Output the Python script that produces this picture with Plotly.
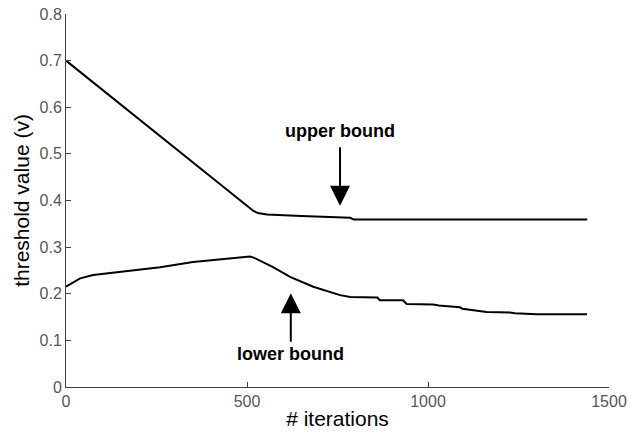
import plotly.graph_objects as go

# Data
upper_x = [0, 500, 517, 530, 555, 650, 785, 795, 1440]
upper_y = [0.700, 0.388, 0.378, 0.373, 0.370, 0.367, 0.363, 0.359, 0.359]

lower_x = [0, 15, 39, 75, 150, 260, 351, 444, 490, 508, 520, 572, 619, 683, 757,
           785, 860, 867, 931, 941, 1014, 1030, 1088, 1095, 1162, 1226, 1240, 1300, 1439]
lower_y = [0.215, 0.222, 0.233, 0.240, 0.247, 0.257, 0.268, 0.275, 0.278, 0.280, 0.277,
           0.257, 0.236, 0.215, 0.197, 0.193, 0.192, 0.186, 0.186, 0.178, 0.177, 0.175,
           0.171, 0.168, 0.161, 0.160, 0.158, 0.156, 0.156]

x_ticks = [0, 500, 1000, 1500]
y_ticks = [0, 0.1, 0.2, 0.3, 0.4, 0.5, 0.6, 0.7, 0.8]
y_tick_text = ["0", "0.1", "0.2", "0.3", "0.4", "0.5", "0.6", "0.7", "0.8"]

fig = go.Figure()
fig.add_trace(go.Scatter(x=upper_x, y=upper_y, mode="lines",
                         line=dict(color="black", width=2), showlegend=False))
fig.add_trace(go.Scatter(x=lower_x, y=lower_y, mode="lines",
                         line=dict(color="black", width=2), showlegend=False))

label_font = dict(family="Liberation Sans, Arial, sans-serif", size=18, color="black")

# upper bound label and arrow
fig.add_annotation(x=757, y=0.55, xref="x", yref="y", text="<b>upper bound</b>",
                   showarrow=False, font=label_font)
fig.add_annotation(x=757, y=0.389, xref="x", yref="y", ax=0, ay=-60, text="",
                   showarrow=True, arrowhead=2, arrowsize=2, arrowwidth=2, arrowcolor="black")
# lower bound label and arrow
fig.add_annotation(x=621, y=0.071, xref="x", yref="y", text="<b>lower bound</b>",
                   showarrow=False, font=label_font)
fig.add_annotation(x=621, y=0.201, xref="x", yref="y", ax=0, ay=50, text="",
                   showarrow=True, arrowhead=2, arrowsize=2, arrowwidth=2, arrowcolor="black")

axis_common = dict(showline=True, linecolor="#404040", linewidth=1, ticks="inside",
                   ticklen=5, tickcolor="#404040", showgrid=False, zeroline=False,
                   tickfont=dict(family="Liberation Sans, Arial, sans-serif", size=16, color="#555555"),
                   mirror=False)

fig.update_xaxes(range=[0, 1500], tickvals=x_ticks, ticktext=[str(v) for v in x_ticks],
                 title=dict(text="# iterations", standoff=2,
                            font=dict(family="Liberation Sans, Arial, sans-serif", size=21, color="black")),
                 automargin=False, **axis_common)
fig.update_yaxes(range=[0, 0.8], tickvals=y_ticks, ticktext=y_tick_text,
                 title=dict(text="threshold value (v)", standoff=4,
                            font=dict(family="Liberation Sans, Arial, sans-serif", size=21, color="black")),
                 automargin=False, **axis_common)

fig.update_layout(width=629, height=435, margin=dict(l=66, r=20, t=14, b=48),
                  plot_bgcolor="white", paper_bgcolor="white")

fig.write_html("out.html")
